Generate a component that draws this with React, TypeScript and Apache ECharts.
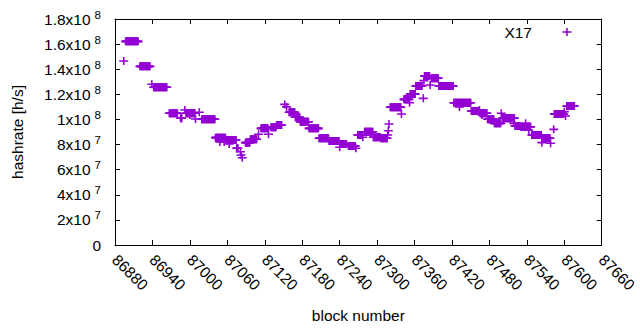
import React, { useEffect, useRef } from "react";
import * as echarts from "echarts";

// Runs of consecutive blocks sharing one hashrate value (values in MH/s, i.e. x1e6)
const runStart = [
  86894, 86897, 86920, 86939, 86942, 86967, 86985, 86992, 86994, 87000,
  87009, 87015, 87019, 87041, 87048, 87055, 87063, 87059, 87075, 87081,
  87082, 87084, 87089, 87097, 87110, 87114, 87126, 87130, 87139, 87152,
  87155, 87159, 87169, 87177, 87191, 87207, 87223, 87240, 87242, 87254,
  87266, 87269, 87277, 87280, 87294, 87306, 87317, 87318, 87319, 87321,
  87339, 87343, 87352, 87353, 87362, 87374, 87375, 87376, 87385, 87387,
  87399, 87423, 87432, 87451, 87464, 87465, 87468, 87477, 87488, 87499,
  87501, 87519, 87521, 87530, 87538, 87543, 87548, 87564, 87565, 87578,
  87583, 87584, 87600, 87602, 87604,
];
const runEnd = [
  86894, 86917, 86936, 86939, 86963, 86980, 86987, 86992, 87008, 87000,
  87009, 87015, 87040, 87057, 87048, 87055, 87063, 87074, 87077, 87081,
  87082, 87084, 87096, 87107, 87110, 87125, 87126, 87138, 87147, 87152,
  87155, 87168, 87176, 87190, 87206, 87222, 87239, 87240, 87251, 87265,
  87266, 87276, 87277, 87293, 87305, 87316, 87317, 87318, 87319, 87338,
  87339, 87351, 87352, 87361, 87372, 87374, 87375, 87384, 87385, 87398,
  87422, 87450, 87432, 87463, 87464, 87476, 87468, 87487, 87498, 87499,
  87520, 87519, 87529, 87546, 87538, 87543, 87563, 87564, 87577, 87578,
  87583, 87599, 87600, 87602, 87616,
];
const runHashrateMH = [
  146.5, 162.2, 142.3, 128.0, 125.6, 104.9, 100.9, 107.5, 104.9, 103.5,
  100.3, 105.7, 100.1, 85.5, 82.0, 82.0, 80.4, 83.6, 77.0, 74.3,
  71.7, 69.5, 81.5, 84.2, 88.2, 92.9, 88.2, 93.7, 95.6, 112.0,
  110.0, 105.7, 101.7, 98.2, 92.9, 85.0, 82.8, 77.8, 80.4, 78.8,
  77.0, 87.6, 85.8, 90.2, 85.8, 85.0, 87.6, 91.0, 96.4, 109.7,
  104.3, 116.0, 113.3, 120.3, 126.6, 116.8, 130.9, 134.6, 127.4, 132.8,
  126.6, 113.3, 110.0, 106.7, 107.5, 104.9, 103.5, 100.1, 96.9, 104.9,
  100.9, 96.9, 94.8, 94.2, 96.9, 91.6, 87.6, 81.5, 85.0, 81.0,
  92.1, 104.3, 106.2, 102.7, 110.7,
];

const seriesName = "X17";
const yTickBase = ["0", "2x10", "4x10", "6x10", "8x10", "1x10", "1.2x10", "1.4x10", "1.6x10", "1.8x10"];
const yTickExp = ["", "7", "7", "7", "7", "8", "8", "8", "8", "8"];

const FONT = "'Liberation Sans', Arial, sans-serif";
const COLOR = "#9400d3";
const PLUS = "path://M0,3.2H9V4.8H0Z M3.7,0H5.3V8H3.7Z";

function buildPoints(): number[][] {
  const pts: number[][] = [];
  for (let i = 0; i < runStart.length; i++) {
    for (let b = runStart[i]; b <= runEnd[i]; b++) {
      pts.push([b, runHashrateMH[i] * 1e6]);
    }
  }
  return pts;
}

export default function App() {
  const ref = useRef<HTMLDivElement>(null);
  useEffect(() => {
    if (!ref.current) return;
    const chart = echarts.init(ref.current, undefined, { renderer: "svg" });
    const tickCommon = { inside: true, length: 5, lineStyle: { color: "#000", width: 1 } };
    const lineCommon = { show: true, onZero: false, lineStyle: { color: "#000", width: 1 } };
    chart.setOption({
      animation: false,
      backgroundColor: "#fff",
      textStyle: { fontFamily: FONT },
      grid: { left: 115, right: 31, top: 19, bottom: 85, containLabel: false },
      xAxis: [
        {
          type: "value",
          min: 86880,
          max: 87660,
          interval: 60,
          name: "block number",
          nameLocation: "middle",
          nameGap: 62,
          nameTextStyle: { fontSize: 15.5, color: "#000", fontFamily: FONT },
          axisLine: lineCommon,
          axisTick: tickCommon,
          splitLine: { show: false },
          axisLabel: {
            rotate: -45,
            margin: 12,
            fontSize: 15.5,
            color: "#000",
            fontFamily: FONT,
            formatter: (v: number) => String(v),
          },
        },
        {
          type: "value",
          position: "top",
          min: 86880,
          max: 87660,
          interval: 60,
          axisLine: lineCommon,
          axisTick: tickCommon,
          axisLabel: { show: false },
          splitLine: { show: false },
        },
      ],
      yAxis: [
        {
          type: "value",
          min: 0,
          max: 1.8e8,
          interval: 2e7,
          name: "hashrate [h/s]",
          nameLocation: "middle",
          nameRotate: 90,
          nameGap: 90,
          nameTextStyle: { fontSize: 15.5, color: "#000", fontFamily: FONT },
          axisLine: lineCommon,
          axisTick: tickCommon,
          splitLine: { show: false },
          axisLabel: {
            margin: 14,
            color: "#000",
            fontFamily: FONT,
            formatter: (_v: number, i: number) =>
              yTickExp[i] ? `{m|${yTickBase[i]}}{s|${yTickExp[i]}}` : `{m|${yTickBase[i]}}`,
            rich: {
              m: { fontSize: 15.5, color: "#000", fontFamily: FONT },
              s: { fontSize: 11.5, color: "#000", fontFamily: FONT, padding: [0, 0, 9, 4] },
            },
          },
        },
        {
          type: "value",
          position: "right",
          min: 0,
          max: 1.8e8,
          interval: 2e7,
          axisLine: lineCommon,
          axisTick: tickCommon,
          axisLabel: { show: false },
          splitLine: { show: false },
        },
      ],
      graphic: [
        {
          type: "text",
          x: 532,
          y: 32,
          style: {
            text: seriesName,
            fontSize: 15.5,
            fontFamily: FONT,
            fill: "#000",
            align: "right",
            verticalAlign: "middle",
          },
        },
        { type: "rect", shape: { x: 562.5, y: 31.2, width: 9, height: 1.6 }, style: { fill: COLOR } },
        { type: "rect", shape: { x: 566.2, y: 28, width: 1.6, height: 8 }, style: { fill: COLOR } },
      ],
      series: [
        {
          name: seriesName,
          type: "scatter",
          xAxisIndex: 0,
          yAxisIndex: 0,
          symbol: PLUS,
          symbolSize: [9, 8],
          itemStyle: { color: COLOR, opacity: 1 },
          emphasis: { disabled: true },
          data: buildPoints(),
        },
      ],
    });
    return () => chart.dispose();
  }, []);
  return (
    <div
      ref={ref}
      style={{ position: "fixed", left: 0, top: 0, width: 640, height: 330, background: "#fff" }}
    />
  );
}
